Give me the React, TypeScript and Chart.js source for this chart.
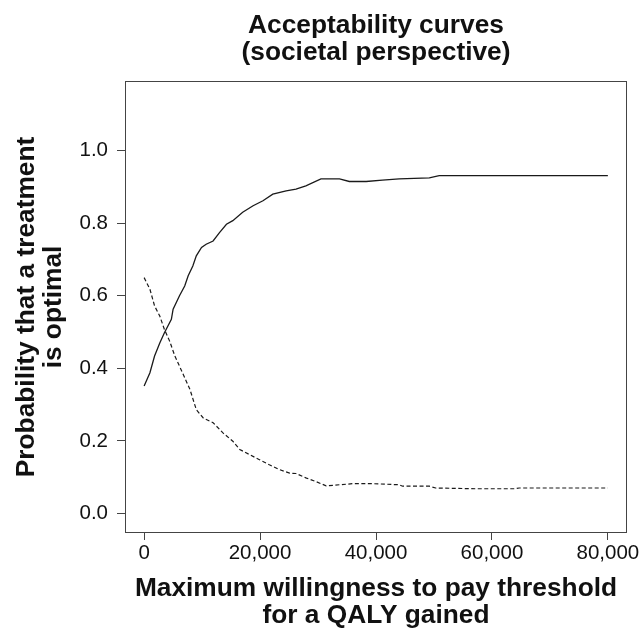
import React, { useEffect, useRef } from "react";
import { Chart, registerables } from "chart.js";

Chart.register(...registerables);

const titleLines = ["Acceptability curves", "(societal perspective)"];
const xTitleLines = ["Maximum willingness to pay threshold", "for a QALY gained"];
const yTitleLines = ["Probability that a treatment", "is optimal"];

const xTickValues = [0, 20000, 40000, 60000, 80000];
const yTickValues = [0, 0.2, 0.4, 0.6, 0.8, 1.0];

const solidX = [0, 1000, 1800, 2700, 3500, 4700, 5000, 6100, 7000, 7600, 8400, 9000, 9900, 10700, 11900, 13000, 14200, 15300, 17000, 18800, 20500, 22200, 24500, 26200, 27900, 30500, 33700, 35400, 38300, 41100, 44000, 49200, 50900, 80000];
const solidY = [0.351, 0.388, 0.434, 0.47, 0.498, 0.535, 0.563, 0.6, 0.627, 0.655, 0.682, 0.71, 0.733, 0.742, 0.751, 0.774, 0.797, 0.807, 0.83, 0.848, 0.862, 0.88, 0.889, 0.894, 0.903, 0.922, 0.922, 0.915, 0.915, 0.919, 0.922, 0.925, 0.931, 0.931];

const dashedX = [0, 1000, 1800, 2700, 3500, 4400, 5300, 6100, 7000, 7900, 9000, 10200, 11900, 13600, 15300, 16500, 18200, 19900, 21600, 23300, 25100, 26200, 27900, 29600, 31400, 33700, 36000, 39400, 44000, 44600, 49200, 50300, 57200, 64000, 64700, 80000];
const dashedY = [0.65, 0.618, 0.572, 0.544, 0.507, 0.475, 0.434, 0.406, 0.374, 0.342, 0.286, 0.263, 0.25, 0.222, 0.199, 0.176, 0.162, 0.148, 0.134, 0.121, 0.111, 0.11, 0.098, 0.088, 0.076, 0.079, 0.082, 0.082, 0.079, 0.075, 0.075, 0.07, 0.068, 0.068, 0.07, 0.07];

const FONT = "'Liberation Sans', Arial, Helvetica, sans-serif";

const textPlugin = {
  id: "customText",
  afterDraw(chart: any) {
    const { ctx, chartArea } = chart;
    const cx = (chartArea.left + chartArea.right) / 2;
    const cy = (chartArea.top + chartArea.bottom) / 2;
    ctx.save();
    // box
    ctx.strokeStyle = "#444";
    ctx.lineWidth = 1;
    ctx.strokeRect(chartArea.left + 0.5, chartArea.top + 0.5, chartArea.right - chartArea.left - 1, chartArea.bottom - chartArea.top - 1);
    ctx.fillStyle = "#111";
    ctx.textAlign = "center";
    ctx.textBaseline = "alphabetic";
    ctx.font = `bold 26.3px ${FONT}`;
    ctx.fillText(titleLines[0], cx, 33);
    ctx.fillText(titleLines[1], cx, 59.5);
    ctx.fillText(xTitleLines[0], cx, 596);
    ctx.fillText(xTitleLines[1], cx, 622.5);
    ctx.translate(34.3, cy);
    ctx.rotate(-Math.PI / 2);
    ctx.fillText(yTitleLines[0], 0, 0);
    ctx.fillText(yTitleLines[1], 0, 26.5);
    ctx.restore();
  },
};

export default function App() {
  const ref = useRef<HTMLCanvasElement>(null);
  useEffect(() => {
    const canvas = ref.current;
    if (!canvas) return;
    const chart = new Chart(canvas, {
      type: "line",
      data: {
        datasets: [
          {
            data: solidX.map((x, i) => ({ x, y: solidY[i] })),
            borderColor: "#1a1a1a",
            borderWidth: 1.3,
            pointRadius: 0,
            fill: false,
            tension: 0,
          },
          {
            data: dashedX.map((x, i) => ({ x, y: dashedY[i] })),
            borderColor: "#1a1a1a",
            borderWidth: 1.2,
            borderDash: [4, 2.5],
            pointRadius: 0,
            fill: false,
            tension: 0,
          },
        ],
      },
      options: {
        responsive: false,
        animation: false,
        layout: { padding: { top: 81, right: 16, bottom: 0, left: 0 } },
        plugins: { legend: { display: false }, tooltip: { enabled: false }, title: { display: false } },
        scales: {
          x: {
            type: "linear",
            min: -3300,
            max: 83300,
            afterBuildTicks: (scale: any) => {
              scale.ticks = xTickValues.map((v) => ({ value: v }));
            },
            afterFit: (scale: any) => {
              scale.height = 100;
            },
            grid: { display: true, drawOnChartArea: false, drawTicks: true, tickLength: 7, color: "#444" },
            border: { display: false },
            ticks: {
              padding: 1,
              maxRotation: 0,
              autoSkip: false,
              color: "#111",
              font: { family: FONT, size: 20.5 },
              callback: (v: any) => Number(v).toLocaleString("en-US"),
            },
          },
          y: {
            type: "linear",
            min: -0.054,
            max: 1.192,
            afterBuildTicks: (scale: any) => {
              scale.ticks = yTickValues.map((v) => ({ value: v }));
            },
            afterFit: (scale: any) => {
              scale.width = 125;
            },
            grid: { display: true, drawOnChartArea: false, drawTicks: true, tickLength: 8, color: "#444" },
            border: { display: false },
            ticks: {
              padding: 9,
              autoSkip: false,
              color: "#111",
              font: { family: FONT, size: 20.5 },
              callback: (v: any) => Number(v).toFixed(1),
            },
          },
        },
      },
      plugins: [textPlugin],
    });
    return () => chart.destroy();
  }, []);
  return (
    <div style={{ position: "absolute", left: 0, top: 0, width: 643, height: 633, background: "#fff" }}>
      <canvas ref={ref} width={643} height={633} style={{ width: 643, height: 633, display: "block" }} />
    </div>
  );
}
